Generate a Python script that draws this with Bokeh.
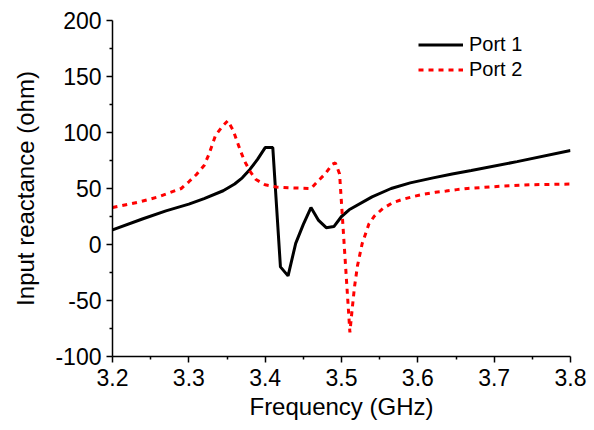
from bokeh.plotting import figure
from bokeh.models import Range1d, FixedTicker, Legend, LegendItem
from bokeh.embed import file_html
from bokeh.resources import INLINE

# Port 1 (black solid)
freq1 = [3.20, 3.24, 3.27, 3.30, 3.32, 3.345, 3.36, 3.37, 3.38, 3.39, 3.40, 3.41, 3.42,
         3.43, 3.44, 3.45, 3.46, 3.47, 3.48, 3.49, 3.50, 3.51, 3.54, 3.565, 3.59,
         3.62, 3.645, 3.67, 3.73, 3.80]
react1 = [13, 23, 30, 36, 41, 48, 54, 59.5, 67, 76, 86.5, 86.5, -20,
          -28, 1, 18, 33, 21.5, 15, 16, 25, 31, 42.5, 50, 55,
          59.5, 63, 66, 74, 84]

# Port 2 (red dotted)
freq2 = [3.20, 3.235, 3.26, 3.29, 3.30, 3.31, 3.32, 3.326, 3.335, 3.344, 3.351,
         3.358, 3.363, 3.368, 3.373, 3.38, 3.388, 3.40, 3.415, 3.43, 3.46, 3.468,
         3.479, 3.488, 3.492, 3.4975, 3.511, 3.514, 3.517, 3.521, 3.527, 3.536,
         3.543, 3.554, 3.567, 3.58, 3.595, 3.609, 3.623, 3.637, 3.651, 3.665,
         3.709, 3.751, 3.80]
react2 = [33, 38, 42.5, 50, 56, 62.5, 70.5, 80, 97.5, 105.5, 110.5,
          102, 92.5, 83, 74.5, 65.5, 58, 53.3, 51.3, 50.7, 50, 55.8,
          63.3, 71.6, 72.8, 63, -78.5, -57.6, -38, -18.8, 0.6, 18.5,
          25.3, 32, 37.3, 40.3, 43, 45, 46.6, 47.7, 49, 50,
          52, 53.4, 54]

x_ticks = [3.2, 3.3, 3.4, 3.5, 3.6, 3.7, 3.8]
x_minor = [3.25, 3.35, 3.45, 3.55, 3.65, 3.75]
y_ticks = [-100, -50, 0, 50, 100, 150, 200]
y_minor = [-75, -25, 25, 75, 125, 175]

FONT = "Liberation Sans"

p = figure(width=594, height=430, output_backend="svg", toolbar_location=None,
           x_range=Range1d(3.2, 3.8), y_range=Range1d(-100, 200),
           min_border_left=112, min_border_right=24, min_border_top=20,
           min_border_bottom=74)
p.outline_line_color = None
p.xgrid.visible = False
p.ygrid.visible = False
p.background_fill_color = "white"
p.border_fill_color = "white"

r1 = p.line(freq1, react1, line_color="black", line_width=3)
r2 = p.line(freq2, react2, line_color="#ff0000", line_width=3, line_dash="5 5")

for ax, ticks, minor in ((p.xaxis[0], x_ticks, x_minor), (p.yaxis[0], y_ticks, y_minor)):
    ax.ticker = FixedTicker(ticks=ticks, minor_ticks=minor)
    ax.axis_line_width = 1.5
    ax.axis_line_color = "black"
    ax.major_tick_line_width = 1.5
    ax.minor_tick_line_width = 1.5
    ax.major_tick_line_color = "black"
    ax.minor_tick_line_color = "black"
    ax.major_tick_in = 0
    ax.major_tick_out = 6
    ax.minor_tick_in = 0
    ax.minor_tick_out = 3
    ax.major_label_text_font = FONT
    ax.major_label_text_font_size = "23px"
    ax.major_label_text_color = "black"
    ax.axis_label_text_font = FONT
    ax.axis_label_text_font_size = "24px"
    ax.axis_label_text_font_style = "normal"
    ax.axis_label_text_color = "black"

p.xaxis[0].axis_label = "Frequency (GHz)"
p.yaxis[0].axis_label = "Input reactance (ohm)"
p.xaxis[0].major_label_standoff = 6
p.xaxis[0].axis_label_standoff = 4
p.yaxis[0].major_label_standoff = 5
p.yaxis[0].axis_label_standoff = 13
p.xaxis[0].major_label_overrides = {t: f"{t:.1f}" for t in x_ticks}
p.yaxis[0].major_label_overrides = {t: str(t) for t in y_ticks}

legend = Legend(items=[LegendItem(label="Port 1", renderers=[r1]),
                       LegendItem(label="Port 2", renderers=[r2])],
                location=(306, 274), padding=0, margin=0, spacing=0,
                glyph_width=45, glyph_height=25, label_height=25,
                label_standoff=6, label_text_font=FONT,
                label_text_font_size="20px", label_text_color="black",
                border_line_color=None, background_fill_alpha=0)
p.add_layout(legend)

open("out.html", "w").write(file_html(p, INLINE))
